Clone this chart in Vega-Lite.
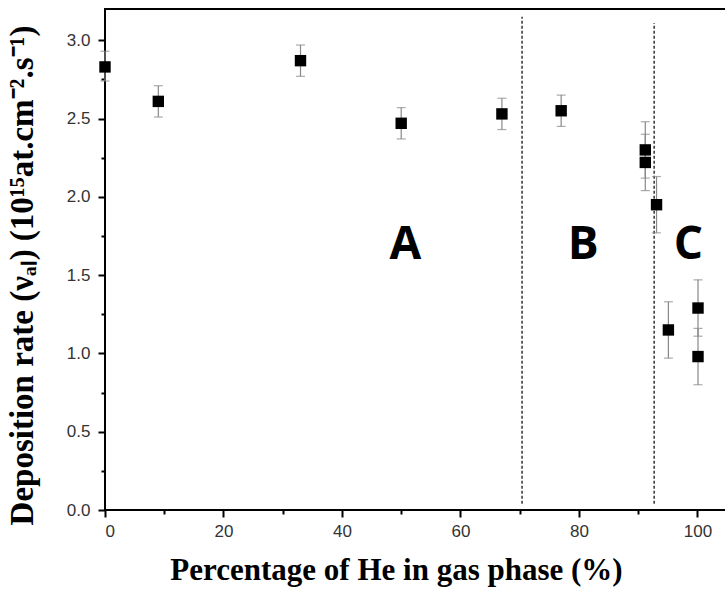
{
  "$schema": "https://vega.github.io/schema/vega-lite/v6.json",
  "autosize": {"type": "none"},
  "padding": {"left": 105, "top": 9, "right": 0, "bottom": 81},
  "width": 625,
  "height": 501,
  "background": "white",
  "config": {
    "view": {"stroke": "black", "strokeWidth": 2},
    "axis": {"grid": false, "domain": false}
  },
  "datasets": {
    "points": [
      {"he": 0, "rate": 2.83, "lo": 2.74, "hi": 2.93},
      {"he": 9, "rate": 2.61, "lo": 2.51, "hi": 2.71},
      {"he": 33, "rate": 2.87, "lo": 2.77, "hi": 2.97},
      {"he": 50, "rate": 2.47, "lo": 2.37, "hi": 2.57},
      {"he": 67, "rate": 2.53, "lo": 2.43, "hi": 2.63},
      {"he": 77, "rate": 2.55, "lo": 2.45, "hi": 2.65},
      {"he": 91.2, "rate": 2.30, "lo": 2.12, "hi": 2.48},
      {"he": 91.2, "rate": 2.22, "lo": 2.04, "hi": 2.40},
      {"he": 93.1, "rate": 1.95, "lo": 1.77, "hi": 2.13},
      {"he": 95.1, "rate": 1.15, "lo": 0.97, "hi": 1.33},
      {"he": 100.1, "rate": 1.29, "lo": 1.11, "hi": 1.47},
      {"he": 100.1, "rate": 0.98, "lo": 0.80, "hi": 1.16}
    ],
    "lines": [
      {"he": 70.4, "y1": 0.04, "y2": 3.15},
      {"he": 92.7, "y1": 0.04, "y2": 3.11}
    ],
    "labels": [
      {"he": 50.7, "rate": 1.69, "label": "A"},
      {"he": 80.7, "rate": 1.69, "label": "B"},
      {"he": 98.5, "rate": 1.69, "label": "C"}
    ]
  },
  "layer": [
    {
      "data": {"name": "lines"},
      "mark": {"type": "rule", "color": "#333", "strokeWidth": 1.5, "strokeDash": [3, 2]},
      "encoding": {
        "x": {"field": "he", "type": "quantitative", "scale": {"domain": [0, 105.5], "nice": false, "zero": false}, "axis": null},
        "y": {"field": "y1", "type": "quantitative", "scale": {"domain": [0, 3.2], "nice": false}, "axis": null},
        "y2": {"field": "y2"}
      }
    },
    {
      "data": {"name": "points"},
      "mark": {"type": "rule", "color": "#888", "strokeWidth": 1.2},
      "encoding": {
        "x": {"field": "he", "type": "quantitative", "scale": {"domain": [0, 105.5], "nice": false, "zero": false},
          "axis": {
            "orient": "bottom",
            "values": [0, 20, 40, 60, 80, 100],
            "title": "Percentage of He in gas phase (%)",
            "titleFont": "Liberation Serif", "titleFontSize": 31, "titleFontWeight": "bold", "titleColor": "black",
            "titleX": 291, "titleY": 69, "titleAlign": "center", "titleBaseline": "alphabetic", "titleAnchor": null,
            "labelFont": "Liberation Sans", "labelFontSize": 17, "labelColor": "#333",
            "tickSize": 7, "tickWidth": 2, "tickColor": "black", "labelPadding": 6
          }},
        "y": {"field": "lo", "type": "quantitative", "scale": {"domain": [0, 3.2], "nice": false},
          "axis": {
            "orient": "left",
            "values": [0, 0.5, 1, 1.5, 2, 2.5, 3],
            "format": ".1f",
            "title": "Deposition rate (νₐₗ) (10¹⁵at.cm⁻².s⁻¹)",
            "titleFont": "Liberation Serif", "titleFontSize": 33, "titleFontWeight": "bold", "titleColor": "black",
            "titleX": -83, "titleY": 266, "titleAngle": -90, "titleAlign": "center", "titleBaseline": "middle", "titleAnchor": null,
            "labelFont": "Liberation Sans", "labelFontSize": 17, "labelColor": "#333",
            "tickSize": 7, "tickWidth": 2, "tickColor": "black", "labelPadding": 8
          }},
        "y2": {"field": "hi"}
      }
    },
    {
      "data": {"name": "points"},
      "mark": {"type": "tick", "color": "#888", "thickness": 1.2, "size": 9, "orient": "horizontal"},
      "encoding": {
        "x": {"field": "he", "type": "quantitative",
          "axis": {"orient": "bottom", "values": [10, 30, 50, 70, 90], "labels": false, "title": null, "tickSize": 4, "tickWidth": 2, "tickColor": "black"}},
        "y": {"field": "lo", "type": "quantitative",
          "axis": {"orient": "left", "values": [0.25, 0.75, 1.25, 1.75, 2.25, 2.75], "labels": false, "title": null, "tickSize": 4, "tickWidth": 2, "tickColor": "black"}}
      }
    },
    {
      "data": {"name": "points"},
      "mark": {"type": "tick", "color": "#888", "thickness": 1.2, "size": 9, "orient": "horizontal"},
      "encoding": {
        "x": {"field": "he", "type": "quantitative", "axis": null},
        "y": {"field": "hi", "type": "quantitative", "axis": null}
      }
    },
    {
      "data": {"name": "points"},
      "mark": {"type": "point", "shape": "square", "filled": true, "color": "black", "size": 130, "opacity": 1},
      "encoding": {
        "x": {"field": "he", "type": "quantitative", "axis": null},
        "y": {"field": "rate", "type": "quantitative", "axis": null}
      }
    },
    {
      "data": {"name": "labels"},
      "mark": {"type": "text", "font": "Open Sans", "fontWeight": "bold", "fontSize": 46, "color": "black", "align": "center", "baseline": "middle"},
      "encoding": {
        "x": {"field": "he", "type": "quantitative", "axis": null},
        "y": {"field": "rate", "type": "quantitative", "axis": null},
        "text": {"field": "label"}
      }
    }
  ],
  "resolve": {"axis": {"x": "independent", "y": "independent"}}
}
